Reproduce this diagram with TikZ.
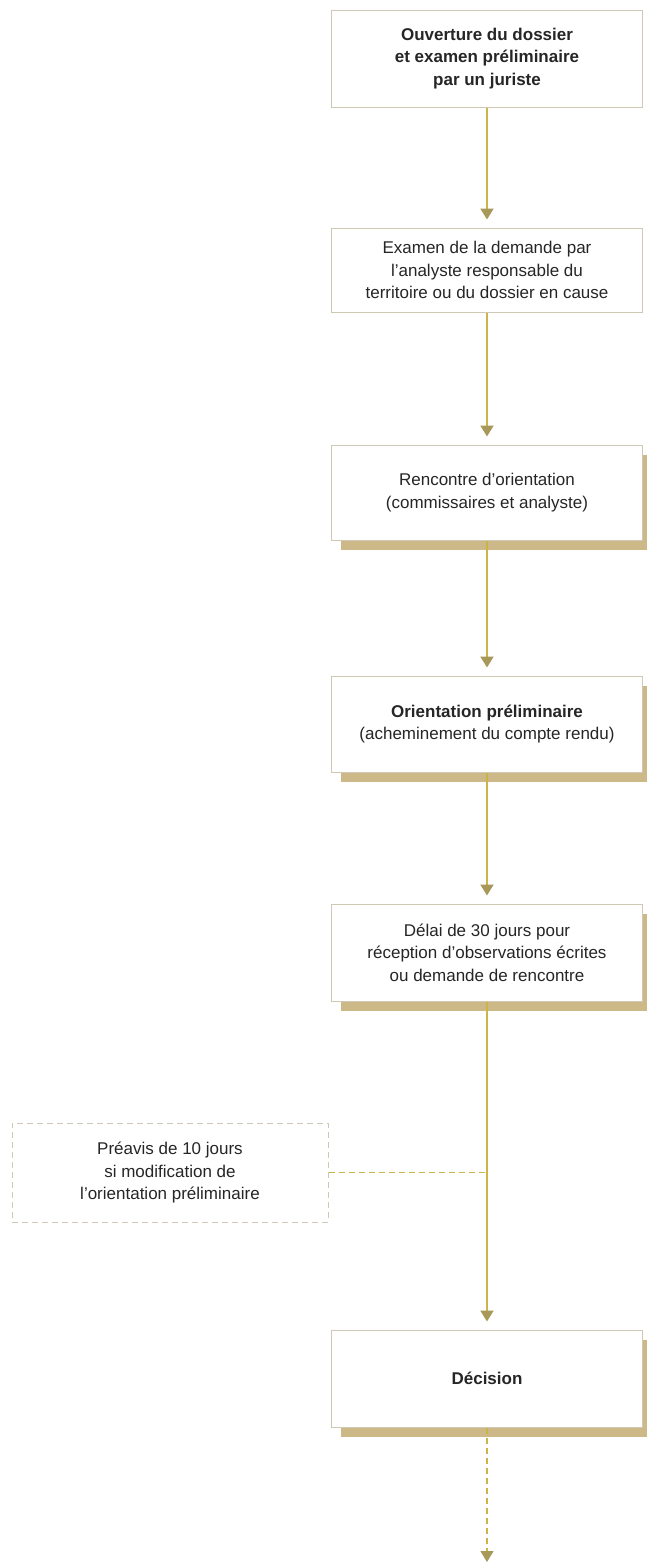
\documentclass[tikz,border=0pt]{standalone}
\usepackage{fontspec}
\setmainfont{Liberation Sans}
\usetikzlibrary{arrows.meta,shadows}
\definecolor{linkcol}{HTML}{CCB548}
\definecolor{tipcol}{HTML}{A8985A}
\definecolor{shadecol}{HTML}{CDB888}
\definecolor{edgecol}{HTML}{CFC8B4}

\begin{document}
\begin{tikzpicture}[x=0.5pt,y=-0.5pt,
    every node/.style={font=\fontsize{8.5}{11.3}\selectfont, align=center, text=black!85},
    box/.style={draw=edgecol, line width=0.5pt, fill=white, minimum width=155.5pt, inner sep=0pt},
    shadowed/.style={box, drop shadow={shadow xshift=4.5pt, shadow yshift=-5pt, fill=shadecol, opacity=1}},
    link/.style={color=linkcol, line width=1pt, shorten >=4pt,
      -{Triangle[width=6.5pt,length=5.5pt,tipcol]}}]
      \useasboundingbox (0,0) rectangle (647,1564);
      % main column of steps
      \node[box, minimum height=48.5pt] (open) at (487,58.5)
        {\textbf{Ouverture du dossier}\\\textbf{et examen préliminaire}\\\textbf{par un juriste}};
      \node[box, minimum height=42pt] (exam) at (487,270)
        {Examen de la demande par\\l’analyste responsable du\\territoire ou du dossier en cause};
      \node[shadowed, minimum height=47.5pt] (meet) at (487,492.5)
        {Rencontre d’orientation\\(commissaires et analyste)};
      \node[shadowed, minimum height=48pt] (prelim) at (487,724)
        {\textbf{Orientation préliminaire}\\(acheminement du compte rendu)};
      \node[shadowed, minimum height=48.5pt] (delay) at (487,952.5)
        {Délai de 30 jours pour\\réception d’observations écrites\\ou demande de rencontre};
      \node[shadowed, minimum height=48.5pt] (decision) at (487,1378.5)
        {\textbf{Décision}};
      % side note
      \node[box, dashed, dash pattern=on 3pt off 2pt, minimum width=158pt, minimum height=49.5pt] (notice) at (170,1172.5)
        {Préavis de 10 jours\\si modification de\\l’orientation préliminaire};
      \coordinate (join) at (487,1172.5);
      \coordinate (next) at (487,1562);
      \draw[link] (open) -- (exam);
      \draw[link] (exam) -- (meet);
      \draw[link] (meet) -- (prelim);
      \draw[link] (prelim) -- (delay);
      \draw[link] (delay) -- (decision);
      \draw[linkcol, line width=0.6pt, dash pattern=on 3pt off 2pt] (notice) -- (join);
      \draw[link, line width=0.6pt, dash pattern=on 3pt off 2pt, shorten >=0pt] (decision) -- (next);
    \end{tikzpicture}
\end{document}
